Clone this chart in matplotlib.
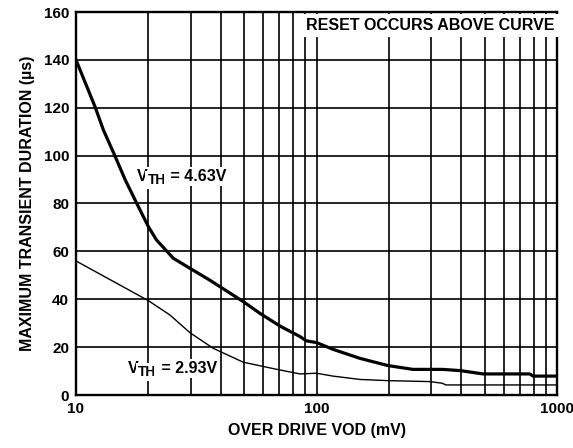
import matplotlib
matplotlib.use("Agg")
import matplotlib.pyplot as plt
import matplotlib.ticker as mticker
import numpy as np

plt.rcParams['font.family'] = ['Liberation Sans', 'DejaVu Sans']
plt.rcParams['font.weight'] = 'bold'

# thick curve, VTH = 4.63V
vod_hi = [10, 12.0, 13.0, 14.5, 16.0, 17.9, 20, 21.6, 23.8, 25.4, 29.8, 36.1, 49.6, 58.2, 70.5,
          85.4, 90.9, 100, 117, 151.6, 198, 252, 334, 395, 493, 770, 796, 1000]
dur_hi = [140, 120.4, 110.7, 100, 90, 80, 70.3, 64.8, 60.2, 57.1, 52.9, 47.9, 39, 34.1, 28.8,
          24.4, 22.6, 21.9, 19.1, 15.3, 12.3, 10.7, 10.7, 10.2, 8.8, 8.8, 7.9, 7.9]

# thin curve, VTH = 2.93V
vod_lo = [10, 20, 24.6, 29.8, 37.2, 49.6, 68.5, 85.4, 100, 117, 151.6, 198, 296, 334, 345, 1000]
dur_lo = [56, 39.4, 33.4, 26, 19.5, 13.7, 10.7, 8.8, 9.1, 7.9, 6.5, 6.0, 5.6, 4.9, 4.2, 4.2]

fig = plt.figure(figsize=(5.73, 4.48), dpi=100)
ax = fig.add_axes([76 / 573, 53 / 448, 481 / 573, 383 / 448])

ax.plot(vod_hi, dur_hi, color='black', lw=2.3, zorder=3)
ax.plot(vod_lo, dur_lo, color='black', lw=1.0, zorder=3)

ax.set_xscale('log')
ax.set_xlim(10, 1000)
ax.set_ylim(0, 160)
ax.xaxis.set_major_locator(mticker.FixedLocator([10, 100, 1000]))
ax.xaxis.set_major_formatter(mticker.FixedFormatter(['10', '100', '1000']))
minors = [m * d for d in (10, 100) for m in range(2, 10)]
ax.xaxis.set_minor_locator(mticker.FixedLocator(minors))
ax.xaxis.set_minor_formatter(mticker.NullFormatter())
ax.set_yticks(np.arange(0, 161, 20))

ax.grid(True, which='both', color='black', lw=1.2)
ax.tick_params(which='both', length=0, labelsize=11, pad=5)
for lab in ax.get_xticklabels() + ax.get_yticklabels():
    lab.set_fontweight('bold')
for sp in ax.spines.values():
    sp.set_linewidth(1.7)

ax.set_xlabel('OVER DRIVE VOD (mV)', fontsize=11.5, fontweight='bold', labelpad=5)
ax.set_ylabel('MAXIMUM TRANSIENT DURATION (µs)', fontsize=11.5, fontweight='bold', labelpad=6)


def vth_label(x, y, value):
    box = dict(facecolor='white', edgecolor='none', pad=1.5)
    t1 = ax.text(x, y, 'V', fontsize=11.5, fontweight='bold', va='baseline', ha='left',
                 bbox=box, zorder=4)
    t2 = ax.annotate('TH', xy=(1, 0), xycoords=t1, xytext=(0, -2.5), textcoords='offset points',
                     fontsize=10, fontweight='bold', va='bottom', ha='left', bbox=box, zorder=4)
    ax.annotate(' = ' + value, xy=(1, 0), xycoords=t2, xytext=(0, 2.5), textcoords='offset points',
                fontsize=11.5, fontweight='bold', va='bottom', ha='left', bbox=box, zorder=4)


vth_label(17.9, 89.5, '4.63V')
vth_label(16.4, 9.3, '2.93V')
ax.text(975, 154.3, 'RESET OCCURS ABOVE CURVE', fontsize=11.5, fontweight='bold',
        va='center', ha='right', bbox=dict(facecolor='white', edgecolor='none', pad=3), zorder=4)

fig.savefig('out.png', dpi=100)
